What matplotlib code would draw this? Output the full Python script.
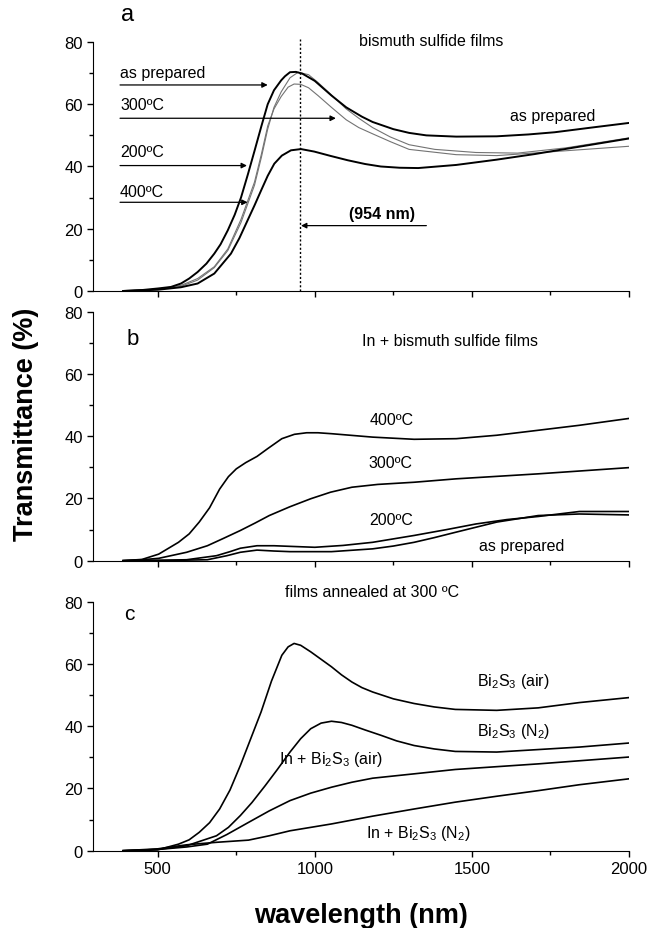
import matplotlib
matplotlib.use("Agg")
import matplotlib.pyplot as plt

plt.rcParams['font.family'] = ['Liberation Sans', 'DejaVu Sans']
plt.rcParams['mathtext.fontset'] = 'custom'
plt.rcParams['mathtext.rm'] = 'Liberation Sans'
plt.rcParams['mathtext.it'] = 'Liberation Sans:italic'
plt.rcParams['mathtext.bf'] = 'Liberation Sans:bold'

# ---- panel a: bismuth sulfide films ----
a_prep_wl = [390, 450, 500, 542, 574, 600, 627, 655, 680, 700, 723, 745, 765, 787, 808, 830, 850, 870,
             893, 905, 921, 940, 961, 1000, 1053, 1100, 1150, 1184, 1250, 1300, 1355, 1450, 1579, 1680,
             1763, 1880, 2000]
a_prep_T = [0, 0.3, 0.8, 1.3, 2.4, 4, 6.1, 8.8, 12, 15, 19.5, 24.5, 30, 37.5, 45, 53, 60, 64.5,
            67.7, 69, 70.3, 70.4, 69.8, 67.5, 62.8, 59, 56, 54.3, 52, 50.8, 50, 49.6, 49.7, 50.3,
            51, 52.5, 54]
a_200_wl = [390, 500, 574, 627, 680, 723, 765, 808, 830, 850, 870, 893, 921, 947, 980, 1010, 1053, 1100,
            1140, 1184, 1240, 1300, 1382, 1513, 1645, 1800, 2000]
a_200_T = [0, 0.5, 1.5, 3.5, 7.5, 13, 22, 34, 43, 52, 59, 64, 68.5, 70.3, 69.5, 67, 63, 58.5,
           55.5, 52.5, 49.5, 47, 45.5, 44.5, 44.3, 46, 49.2]
a_300_wl = [390, 500, 574, 627, 680, 723, 765, 808, 830, 850, 870, 893, 915, 934, 955, 980, 1010, 1053,
            1100, 1140, 1184, 1240, 1300, 1450, 1579, 1763, 2000]
a_300_T = [0, 0.6, 1.8, 4, 7.8, 13.5, 23, 35, 44, 53, 58.5, 62.5, 65.5, 66.5, 66.4, 65.3, 62.8, 59,
           55, 52.5, 50.5, 48, 45.5, 43.8, 43.5, 44.8, 46.5]
a_400_wl = [390, 500, 574, 627, 680, 733, 760, 786, 808, 829, 850, 871, 895, 924, 956, 998, 1050, 1105,
            1160, 1210, 1270, 1329, 1450, 1579, 1700, 1850, 2000]
a_400_T = [0, 0.4, 1.2, 2.4, 5.6, 12, 17, 22.7, 27.5, 32.3, 37, 40.9, 43.5, 45.2, 45.6, 44.8, 43.4, 42,
           40.8, 40, 39.6, 39.5, 40.5, 42.2, 44, 46.5, 49]
edge_wl = 954

# ---- panel b: In + bismuth sulfide films ----
b_400_wl = [390, 450, 503, 566, 600, 632, 665, 697, 725, 750, 780, 816, 850, 895, 935, 974, 1010, 1053,
            1184, 1316, 1450, 1579, 1711, 1842, 2000]
b_400_T = [0, 0.4, 2.1, 5.9, 8.6, 12.4, 17, 23, 27, 29.5, 31.5, 33.5, 36, 39.2, 40.6, 41.1, 41.1, 40.8,
           39.7, 39, 39.2, 40.3, 41.9, 43.5, 45.7]
b_300_wl = [390, 450, 503, 592, 658, 710, 763, 810, 855, 920, 987, 1050, 1118, 1200, 1316, 1450, 1711, 2000]
b_300_T = [0, 0.3, 0.75, 2.7, 4.8, 7.2, 9.7, 12.1, 14.5, 17.3, 19.9, 22, 23.6, 24.5, 25.2, 26.3, 27.9, 29.9]
b_200_wl = [390, 500, 592, 687, 730, 763, 816, 870, 921, 1000, 1090, 1184, 1316, 1420, 1513, 1611, 1711,
            1842, 2000]
b_200_T = [0, 0.1, 0.3, 1.6, 2.9, 4.0, 4.8, 4.8, 4.6, 4.3, 4.9, 5.9, 8.1, 10, 11.8, 13.2, 14.2, 15.8, 15.8]
b_prep_wl = [390, 550, 658, 720, 763, 816, 870, 921, 1053, 1184, 1250, 1316, 1380, 1447, 1579, 1711,
             1842, 2000]
b_prep_T = [0, 0.1, 0.3, 1.6, 2.7, 3.4, 3.1, 2.9, 2.9, 3.8, 4.7, 5.9, 7.4, 9.1, 12.4, 14.5, 15, 14.7]

# ---- panel c: films annealed at 300 C ----
c_air_wl = [390, 450, 500, 566, 600, 632, 665, 697, 730, 763, 796, 829, 862, 895, 915, 934, 955, 987,
            1020, 1053, 1085, 1118, 1150, 1184, 1250, 1316, 1380, 1447, 1579, 1711, 1842, 2000]
c_air_T = [0, 0.1, 0.3, 2.1, 3.5, 5.9, 9, 13.4, 19.5, 27.4, 36, 44.6, 54.5, 62.8, 65.5, 66.6, 66, 63.9,
           61.5, 59.1, 56.5, 54.2, 52.4, 51, 48.8, 47.3, 46.2, 45.4, 45.1, 45.9, 47.6, 49.2]
c_n2_wl = [390, 500, 592, 687, 725, 763, 800, 842, 880, 921, 955, 987, 1020, 1053, 1085, 1118, 1160,
           1210, 1260, 1316, 1380, 1447, 1579, 1711, 1842, 2000]
c_n2_T = [0, 0.4, 1.6, 4.8, 7.5, 11.3, 15.5, 20.9, 26, 31.7, 36, 39.2, 41, 41.6, 41.2, 40.3, 38.8,
          37.1, 35.3, 33.8, 32.7, 31.9, 31.7, 32.5, 33.3, 34.6]
c_in_air_wl = [390, 500, 592, 658, 720, 789, 855, 921, 987, 1053, 1118, 1184, 1316, 1447, 1711, 2000]
c_in_air_T = [0, 0.4, 1.2, 2.1, 5.2, 9.1, 12.8, 16.1, 18.5, 20.4, 22, 23.3, 24.7, 26.1, 27.9, 30.1]
c_in_n2_wl = [390, 500, 592, 687, 789, 855, 921, 1053, 1184, 1316, 1447, 1579, 1711, 1842, 2000]
c_in_n2_T = [0, 0.6, 1.9, 2.7, 3.4, 4.8, 6.4, 8.6, 11.1, 13.4, 15.6, 17.5, 19.3, 21.2, 23.1]

fig = plt.figure(figsize=(6.49, 9.29), dpi=100)
left, width, height = 0.1438, 0.8254, 0.268
ax_a = fig.add_axes([left, 0.6857, width, height])
ax_b = fig.add_axes([left, 0.3954, width, height])
ax_c = fig.add_axes([left, 0.0832, width, height])

for ax in (ax_a, ax_b, ax_c):
    ax.set_xlim(295, 2000)
    ax.set_ylim(0, 80)
    ax.spines['top'].set_visible(False)
    ax.spines['right'].set_visible(False)
    ax.set_xticks([500, 1000, 1500, 2000])
    ax.set_xticks([750, 1250, 1750], minor=True)
    ax.set_yticks([0, 20, 40, 60, 80])
    ax.set_yticks([10, 30, 50, 70], minor=True)
    ax.tick_params(direction='out', length=4, width=1, labelsize=12)
    ax.tick_params(which='minor', direction='out', length=3, width=1)
for ax in (ax_a, ax_b):
    ax.tick_params(labelbottom=False)

txt = dict(fontsize=11.5, color='black')
arrow = dict(arrowstyle='-|>', lw=0.9, color='black', mutation_scale=8, shrinkA=0, shrinkB=0)

# panel a
ax_a.plot(a_300_wl, a_300_T, color='0.45', lw=0.8)
ax_a.plot(a_200_wl, a_200_T, color='0.45', lw=0.8)
ax_a.plot(a_prep_wl, a_prep_T, color='black', lw=1.4)
ax_a.plot(a_400_wl, a_400_T, color='black', lw=1.4)
ax_a.plot([edge_wl, edge_wl], [0, 81], color='black', lw=1.0, ls=(0, (1.5, 1.5)), clip_on=False)
ax_a.text(383, 87, 'a', fontsize=17, clip_on=False)
ax_a.text(1371, 80.5, 'bismuth sulfide films', ha='center', va='center', **txt)
for label, ty, ay, ax_end in [('as prepared', 70.3, 66.2, 850), ('300ºC', 59.8, 55.5, 1067),
                              ('200ºC', 44.8, 40.3, 784), ('400ºC', 31.9, 28.5, 786)]:
    ax_a.text(380, ty, label, va='center', **txt)
    ax_a.annotate('', xy=(ax_end, ay), xytext=(380, ay), arrowprops=arrow)
ax_a.text(1213, 24.8, '(954 nm)', ha='center', va='center', fontweight='bold', **txt)
ax_a.annotate('', xy=(edge_wl + 2, 21.0), xytext=(1355, 21.0), arrowprops=arrow)
ax_a.text(1756, 56.4, 'as prepared', ha='center', va='center', **txt)

# panel b
for wl, t in [(b_400_wl, b_400_T), (b_300_wl, b_300_T), (b_200_wl, b_200_T), (b_prep_wl, b_prep_T)]:
    ax_b.plot(wl, t, color='black', lw=1.2)
ax_b.text(401, 71.5, 'b', fontsize=16, va='center')
ax_b.text(1429, 70.9, 'In + bismuth sulfide films', ha='center', va='center', **txt)
ax_b.text(1245, 45.4, '400ºC', ha='center', va='center', **txt)
ax_b.text(1242, 31.5, '300ºC', ha='center', va='center', **txt)
ax_b.text(1242, 13.1, '200ºC', ha='center', va='center', **txt)
ax_b.text(1659, 5.0, 'as prepared', ha='center', va='center', **txt)

# panel c
for wl, t in [(c_air_wl, c_air_T), (c_n2_wl, c_n2_T), (c_in_air_wl, c_in_air_T), (c_in_n2_wl, c_in_n2_T)]:
    ax_c.plot(wl, t, color='black', lw=1.2)
ax_c.text(394, 76.3, 'c', fontsize=15, va='center')
ax_c.text(1182, 83.2, 'films annealed at 300 ºC', ha='center', va='center', clip_on=False, **txt)
ax_c.text(1633, 54.8, r'Bi$_2$S$_3$ (air)', ha='center', va='center', **txt)
ax_c.text(1633, 38.7, r'Bi$_2$S$_3$ (N$_2$)', ha='center', va='center', **txt)
ax_c.text(1053, 29.5, r'In + Bi$_2$S$_3$ (air)', ha='center', va='center', **txt)
ax_c.text(1329, 5.9, r'In + Bi$_2$S$_3$ (N$_2$)', ha='center', va='center', **txt)

fig.text(0.040, 0.5436, 'Transmittance (%)', rotation=90, ha='center', va='center',
         fontsize=19.5, fontweight='bold')
fig.text(0.556, 0.0135, 'wavelength (nm)', ha='center', va='center',
         fontsize=19.5, fontweight='bold')

fig.savefig('out.png', dpi=100)
